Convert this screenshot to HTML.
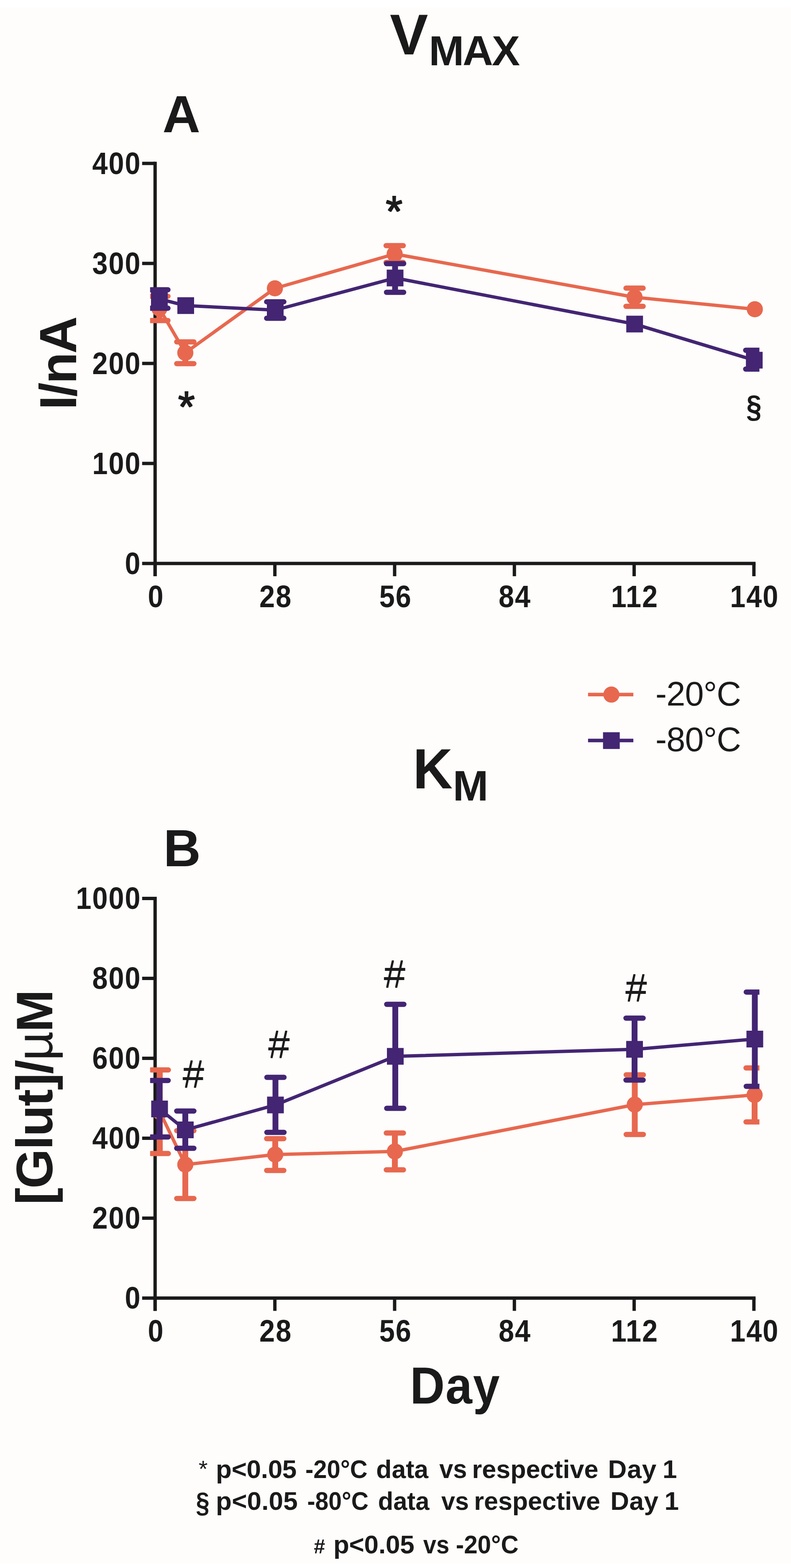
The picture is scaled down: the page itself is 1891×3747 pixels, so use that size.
<!DOCTYPE html>
<html><head><meta charset="utf-8"><title>Vmax and Km</title>
<style>html,body{margin:0;padding:0;background:#fefdfb;}svg{display:block;}</style>
</head><body>
<svg width="1891" height="3747" viewBox="0 0 1891 3747" font-family="'Liberation Sans', Arial, sans-serif" fill="#1a1a1a">
<defs><filter id="thk" x="-10%" y="-10%" width="120%" height="120%"><feMorphology operator="dilate" radius="0.3 1.2"/></filter><filter id="thk2" x="-10%" y="-10%" width="120%" height="120%"><feMorphology operator="dilate" radius="0.8 0.8"/></filter><clipPath id="cr"><rect x="358.8" y="0" width="1456.7" height="3747"/></clipPath></defs>
<rect x="0" y="0" width="1891" height="3747" fill="#ffffff"/>
<rect x="0" y="18" width="1891" height="3718" fill="#fefdfb"/>
<text x="932.0" y="130.0" font-size="137.0" font-weight="bold">V</text>
<text x="1025.2" y="156.0" font-size="101.0" font-weight="bold" letter-spacing="-3.20">MAX</text>
<text x="388.6" y="316.0" font-size="125.0" font-weight="bold">A</text>
<text transform="translate(987.2,1884.3) scale(0.965,1)" font-size="136.0" font-weight="bold">K</text>
<text x="1082.4" y="1912.6" font-size="102.0" font-weight="bold">M</text>
<text x="390.7" y="2069.5" font-size="123.5" font-weight="bold">B</text>
<line x1="370.8" y1="386.5" x2="370.8" y2="1377.0" stroke="#1a1a1a" stroke-width="8"/>
<line x1="366.8" y1="1346.5" x2="1806.3" y2="1346.5" stroke="#1a1a1a" stroke-width="8"/>
<line x1="339.8" y1="1346.5" x2="370.8" y2="1346.5" stroke="#1a1a1a" stroke-width="8"/>
<text transform="translate(298.5,1371.7) scale(0.9,1)" font-size="74.0" font-weight="bold" letter-spacing="2.22">0</text>
<line x1="339.8" y1="1107.5" x2="370.8" y2="1107.5" stroke="#1a1a1a" stroke-width="8"/>
<text transform="translate(220.4,1132.7) scale(0.9,1)" font-size="74.0" font-weight="bold" letter-spacing="2.22">100</text>
<line x1="339.8" y1="868.5" x2="370.8" y2="868.5" stroke="#1a1a1a" stroke-width="8"/>
<text transform="translate(220.4,893.7) scale(0.9,1)" font-size="74.0" font-weight="bold" letter-spacing="2.22">200</text>
<line x1="339.8" y1="629.5" x2="370.8" y2="629.5" stroke="#1a1a1a" stroke-width="8"/>
<text transform="translate(220.4,654.7) scale(0.9,1)" font-size="74.0" font-weight="bold" letter-spacing="2.22">300</text>
<line x1="339.8" y1="390.5" x2="370.8" y2="390.5" stroke="#1a1a1a" stroke-width="8"/>
<text transform="translate(220.4,415.7) scale(0.9,1)" font-size="74.0" font-weight="bold" letter-spacing="2.22">400</text>
<line x1="370.8" y1="1346.5" x2="370.8" y2="1377.0" stroke="#1a1a1a" stroke-width="8"/>
<text transform="translate(353.5,1451.0) scale(0.9,1)" font-size="74.0" font-weight="bold" letter-spacing="2.22">0</text>
<line x1="657.1" y1="1346.5" x2="657.1" y2="1377.0" stroke="#1a1a1a" stroke-width="8"/>
<text transform="translate(620.1,1451.0) scale(0.9,1)" font-size="74.0" font-weight="bold" letter-spacing="2.22">28</text>
<line x1="943.4" y1="1346.5" x2="943.4" y2="1377.0" stroke="#1a1a1a" stroke-width="8"/>
<text transform="translate(906.7,1451.0) scale(0.9,1)" font-size="74.0" font-weight="bold" letter-spacing="2.22">56</text>
<line x1="1229.7" y1="1346.5" x2="1229.7" y2="1377.0" stroke="#1a1a1a" stroke-width="8"/>
<text transform="translate(1192.0,1451.0) scale(0.9,1)" font-size="74.0" font-weight="bold" letter-spacing="2.22">84</text>
<line x1="1516.0" y1="1346.5" x2="1516.0" y2="1377.0" stroke="#1a1a1a" stroke-width="8"/>
<text transform="translate(1460.7,1451.0) scale(0.9,1)" font-size="74.0" font-weight="bold" letter-spacing="2.22">112</text>
<line x1="1802.3" y1="1346.5" x2="1802.3" y2="1377.0" stroke="#1a1a1a" stroke-width="8"/>
<text transform="translate(1745.2,1451.0) scale(0.9,1)" font-size="74.0" font-weight="bold" letter-spacing="2.22">140</text>
<line x1="370.8" y1="2143.0" x2="370.8" y2="3132.5" stroke="#1a1a1a" stroke-width="8"/>
<line x1="366.8" y1="3102.0" x2="1806.3" y2="3102.0" stroke="#1a1a1a" stroke-width="8"/>
<line x1="339.8" y1="3102.0" x2="370.8" y2="3102.0" stroke="#1a1a1a" stroke-width="8"/>
<text transform="translate(298.5,3127.2) scale(0.9,1)" font-size="74.0" font-weight="bold" letter-spacing="2.22">0</text>
<line x1="339.8" y1="2911.0" x2="370.8" y2="2911.0" stroke="#1a1a1a" stroke-width="8"/>
<text transform="translate(220.4,2936.2) scale(0.9,1)" font-size="74.0" font-weight="bold" letter-spacing="2.22">200</text>
<line x1="339.8" y1="2720.0" x2="370.8" y2="2720.0" stroke="#1a1a1a" stroke-width="8"/>
<text transform="translate(220.4,2745.2) scale(0.9,1)" font-size="74.0" font-weight="bold" letter-spacing="2.22">400</text>
<line x1="339.8" y1="2529.0" x2="370.8" y2="2529.0" stroke="#1a1a1a" stroke-width="8"/>
<text transform="translate(220.4,2554.2) scale(0.9,1)" font-size="74.0" font-weight="bold" letter-spacing="2.22">600</text>
<line x1="339.8" y1="2338.0" x2="370.8" y2="2338.0" stroke="#1a1a1a" stroke-width="8"/>
<text transform="translate(220.4,2363.2) scale(0.9,1)" font-size="74.0" font-weight="bold" letter-spacing="2.22">800</text>
<line x1="339.8" y1="2147.0" x2="370.8" y2="2147.0" stroke="#1a1a1a" stroke-width="8"/>
<text transform="translate(181.4,2172.2) scale(0.9,1)" font-size="74.0" font-weight="bold" letter-spacing="2.22">1000</text>
<line x1="370.8" y1="3102.0" x2="370.8" y2="3132.5" stroke="#1a1a1a" stroke-width="8"/>
<text transform="translate(353.5,3205.5) scale(0.9,1)" font-size="74.0" font-weight="bold" letter-spacing="2.22">0</text>
<line x1="657.1" y1="3102.0" x2="657.1" y2="3132.5" stroke="#1a1a1a" stroke-width="8"/>
<text transform="translate(620.1,3205.5) scale(0.9,1)" font-size="74.0" font-weight="bold" letter-spacing="2.22">28</text>
<line x1="943.4" y1="3102.0" x2="943.4" y2="3132.5" stroke="#1a1a1a" stroke-width="8"/>
<text transform="translate(906.7,3205.5) scale(0.9,1)" font-size="74.0" font-weight="bold" letter-spacing="2.22">56</text>
<line x1="1229.7" y1="3102.0" x2="1229.7" y2="3132.5" stroke="#1a1a1a" stroke-width="8"/>
<text transform="translate(1192.0,3205.5) scale(0.9,1)" font-size="74.0" font-weight="bold" letter-spacing="2.22">84</text>
<line x1="1516.0" y1="3102.0" x2="1516.0" y2="3132.5" stroke="#1a1a1a" stroke-width="8"/>
<text transform="translate(1460.7,3205.5) scale(0.9,1)" font-size="74.0" font-weight="bold" letter-spacing="2.22">112</text>
<line x1="1802.3" y1="3102.0" x2="1802.3" y2="3132.5" stroke="#1a1a1a" stroke-width="8"/>
<text transform="translate(1745.2,3205.5) scale(0.9,1)" font-size="74.0" font-weight="bold" letter-spacing="2.22">140</text>
<text transform="translate(182.2,979.3) rotate(-90)" x="0" y="0" font-size="123.5" font-weight="bold" letter-spacing="-3.27">I/nA</text>
<text transform="translate(125.1,2878.8) rotate(-90)" x="0" y="0" font-size="122" font-weight="bold" letter-spacing="-2.14">[Glut]/<tspan font-weight="normal">µ</tspan>M</text>
<polyline points="381.0,737.0 443.0,843.0 657.2,689.0 943.5,607.0 1517.0,710.3 1804.5,739.0" fill="none" stroke="#e7684f" stroke-width="8" stroke-linejoin="round"/>
<line x1="381.0" y1="708.0" x2="381.0" y2="766.0" stroke="#e7684f" stroke-width="14"/>
<line x1="360.5" y1="708.0" x2="401.5" y2="708.0" stroke="#e7684f" stroke-width="12.5" stroke-linecap="round" clip-path="url(#cr)"/>
<line x1="360.5" y1="766.0" x2="401.5" y2="766.0" stroke="#e7684f" stroke-width="12.5" stroke-linecap="round" clip-path="url(#cr)"/>
<circle cx="381.0" cy="737.0" r="19.3" fill="#e7684f"/>
<line x1="443.0" y1="817.0" x2="443.0" y2="869.0" stroke="#e7684f" stroke-width="14"/>
<line x1="422.5" y1="817.0" x2="463.5" y2="817.0" stroke="#e7684f" stroke-width="12.5" stroke-linecap="round" clip-path="url(#cr)"/>
<line x1="422.5" y1="869.0" x2="463.5" y2="869.0" stroke="#e7684f" stroke-width="12.5" stroke-linecap="round" clip-path="url(#cr)"/>
<circle cx="443.0" cy="843.0" r="19.3" fill="#e7684f"/>
<circle cx="657.2" cy="689.0" r="19.3" fill="#e7684f"/>
<line x1="943.5" y1="587.0" x2="943.5" y2="627.0" stroke="#e7684f" stroke-width="14"/>
<line x1="923.0" y1="587.0" x2="964.0" y2="587.0" stroke="#e7684f" stroke-width="12.5" stroke-linecap="round" clip-path="url(#cr)"/>
<line x1="923.0" y1="627.0" x2="964.0" y2="627.0" stroke="#e7684f" stroke-width="12.5" stroke-linecap="round" clip-path="url(#cr)"/>
<circle cx="943.5" cy="607.0" r="19.3" fill="#e7684f"/>
<line x1="1517.0" y1="688.6" x2="1517.0" y2="732.0" stroke="#e7684f" stroke-width="14"/>
<line x1="1496.5" y1="688.6" x2="1537.5" y2="688.6" stroke="#e7684f" stroke-width="12.5" stroke-linecap="round" clip-path="url(#cr)"/>
<line x1="1496.5" y1="732.0" x2="1537.5" y2="732.0" stroke="#e7684f" stroke-width="12.5" stroke-linecap="round" clip-path="url(#cr)"/>
<circle cx="1517.0" cy="710.3" r="19.3" fill="#e7684f"/>
<circle cx="1804.5" cy="739.0" r="19.3" fill="#e7684f"/>
<polyline points="381.0,714.5 444.0,730.3 658.0,741.0 944.5,664.3 1517.2,774.4 1803.2,860.7" fill="none" stroke="#432573" stroke-width="8" stroke-linejoin="round"/>
<line x1="381.0" y1="692.5" x2="381.0" y2="736.5" stroke="#432573" stroke-width="14"/>
<line x1="360.5" y1="692.5" x2="401.5" y2="692.5" stroke="#432573" stroke-width="12.5" stroke-linecap="round" clip-path="url(#cr)"/>
<line x1="360.5" y1="736.5" x2="401.5" y2="736.5" stroke="#432573" stroke-width="12.5" stroke-linecap="round" clip-path="url(#cr)"/>
<rect x="361.0" y="694.5" width="40" height="40" fill="#432573"/>
<rect x="424.0" y="710.3" width="40" height="40" fill="#432573"/>
<line x1="658.0" y1="721.2" x2="658.0" y2="760.5" stroke="#432573" stroke-width="14"/>
<line x1="637.5" y1="721.2" x2="678.5" y2="721.2" stroke="#432573" stroke-width="12.5" stroke-linecap="round" clip-path="url(#cr)"/>
<line x1="637.5" y1="760.5" x2="678.5" y2="760.5" stroke="#432573" stroke-width="12.5" stroke-linecap="round" clip-path="url(#cr)"/>
<rect x="638.0" y="721.0" width="40" height="40" fill="#432573"/>
<line x1="944.5" y1="630.0" x2="944.5" y2="698.5" stroke="#432573" stroke-width="14"/>
<line x1="924.0" y1="630.0" x2="965.0" y2="630.0" stroke="#432573" stroke-width="12.5" stroke-linecap="round" clip-path="url(#cr)"/>
<line x1="924.0" y1="698.5" x2="965.0" y2="698.5" stroke="#432573" stroke-width="12.5" stroke-linecap="round" clip-path="url(#cr)"/>
<rect x="924.5" y="644.3" width="40" height="40" fill="#432573"/>
<rect x="1497.2" y="754.4" width="40" height="40" fill="#432573"/>
<line x1="1803.2" y1="837.0" x2="1803.2" y2="882.0" stroke="#432573" stroke-width="14"/>
<line x1="1782.7" y1="837.0" x2="1823.7" y2="837.0" stroke="#432573" stroke-width="12.5" stroke-linecap="round" clip-path="url(#cr)"/>
<line x1="1782.7" y1="882.0" x2="1823.7" y2="882.0" stroke="#432573" stroke-width="12.5" stroke-linecap="round" clip-path="url(#cr)"/>
<rect x="1783.2" y="840.7" width="40" height="40" fill="#432573"/>
<polyline points="382.0,2656.7 443.0,2783.0 658.0,2759.0 944.0,2751.5 1517.5,2639.7 1804.0,2616.5" fill="none" stroke="#e7684f" stroke-width="8" stroke-linejoin="round"/>
<line x1="382.0" y1="2556.8" x2="382.0" y2="2756.6" stroke="#e7684f" stroke-width="14"/>
<line x1="361.5" y1="2556.8" x2="402.5" y2="2556.8" stroke="#e7684f" stroke-width="12.5" stroke-linecap="round" clip-path="url(#cr)"/>
<line x1="361.5" y1="2756.6" x2="402.5" y2="2756.6" stroke="#e7684f" stroke-width="12.5" stroke-linecap="round" clip-path="url(#cr)"/>
<circle cx="382.0" cy="2656.7" r="19.3" fill="#e7684f"/>
<line x1="443.0" y1="2702.0" x2="443.0" y2="2864.0" stroke="#e7684f" stroke-width="14"/>
<line x1="422.5" y1="2702.0" x2="463.5" y2="2702.0" stroke="#e7684f" stroke-width="12.5" stroke-linecap="round" clip-path="url(#cr)"/>
<line x1="422.5" y1="2864.0" x2="463.5" y2="2864.0" stroke="#e7684f" stroke-width="12.5" stroke-linecap="round" clip-path="url(#cr)"/>
<circle cx="443.0" cy="2783.0" r="19.3" fill="#e7684f"/>
<line x1="658.0" y1="2721.0" x2="658.0" y2="2797.0" stroke="#e7684f" stroke-width="14"/>
<line x1="637.5" y1="2721.0" x2="678.5" y2="2721.0" stroke="#e7684f" stroke-width="12.5" stroke-linecap="round" clip-path="url(#cr)"/>
<line x1="637.5" y1="2797.0" x2="678.5" y2="2797.0" stroke="#e7684f" stroke-width="12.5" stroke-linecap="round" clip-path="url(#cr)"/>
<circle cx="658.0" cy="2759.0" r="19.3" fill="#e7684f"/>
<line x1="944.0" y1="2707.5" x2="944.0" y2="2795.5" stroke="#e7684f" stroke-width="14"/>
<line x1="923.5" y1="2707.5" x2="964.5" y2="2707.5" stroke="#e7684f" stroke-width="12.5" stroke-linecap="round" clip-path="url(#cr)"/>
<line x1="923.5" y1="2795.5" x2="964.5" y2="2795.5" stroke="#e7684f" stroke-width="12.5" stroke-linecap="round" clip-path="url(#cr)"/>
<circle cx="944.0" cy="2751.5" r="19.3" fill="#e7684f"/>
<line x1="1517.5" y1="2568.5" x2="1517.5" y2="2711.0" stroke="#e7684f" stroke-width="14"/>
<line x1="1497.0" y1="2568.5" x2="1538.0" y2="2568.5" stroke="#e7684f" stroke-width="12.5" stroke-linecap="round" clip-path="url(#cr)"/>
<line x1="1497.0" y1="2711.0" x2="1538.0" y2="2711.0" stroke="#e7684f" stroke-width="12.5" stroke-linecap="round" clip-path="url(#cr)"/>
<circle cx="1517.5" cy="2639.7" r="19.3" fill="#e7684f"/>
<line x1="1804.0" y1="2552.0" x2="1804.0" y2="2681.0" stroke="#e7684f" stroke-width="14"/>
<line x1="1783.5" y1="2552.0" x2="1824.5" y2="2552.0" stroke="#e7684f" stroke-width="12.5" stroke-linecap="round" clip-path="url(#cr)"/>
<line x1="1783.5" y1="2681.0" x2="1824.5" y2="2681.0" stroke="#e7684f" stroke-width="12.5" stroke-linecap="round" clip-path="url(#cr)"/>
<circle cx="1804.0" cy="2616.5" r="19.3" fill="#e7684f"/>
<polyline points="381.5,2650.0 443.0,2700.0 658.5,2640.5 945.0,2524.3 1517.0,2507.5 1804.5,2483.0" fill="none" stroke="#432573" stroke-width="8" stroke-linejoin="round"/>
<line x1="381.5" y1="2582.0" x2="381.5" y2="2717.0" stroke="#432573" stroke-width="14"/>
<line x1="361.0" y1="2582.0" x2="402.0" y2="2582.0" stroke="#432573" stroke-width="12.5" stroke-linecap="round" clip-path="url(#cr)"/>
<line x1="361.0" y1="2717.0" x2="402.0" y2="2717.0" stroke="#432573" stroke-width="12.5" stroke-linecap="round" clip-path="url(#cr)"/>
<rect x="361.5" y="2630.0" width="40" height="40" fill="#432573"/>
<line x1="443.0" y1="2655.0" x2="443.0" y2="2744.0" stroke="#432573" stroke-width="14"/>
<line x1="422.5" y1="2655.0" x2="463.5" y2="2655.0" stroke="#432573" stroke-width="12.5" stroke-linecap="round" clip-path="url(#cr)"/>
<line x1="422.5" y1="2744.0" x2="463.5" y2="2744.0" stroke="#432573" stroke-width="12.5" stroke-linecap="round" clip-path="url(#cr)"/>
<rect x="423.0" y="2680.0" width="40" height="40" fill="#432573"/>
<line x1="658.5" y1="2574.5" x2="658.5" y2="2706.0" stroke="#432573" stroke-width="14"/>
<line x1="638.0" y1="2574.5" x2="679.0" y2="2574.5" stroke="#432573" stroke-width="12.5" stroke-linecap="round" clip-path="url(#cr)"/>
<line x1="638.0" y1="2706.0" x2="679.0" y2="2706.0" stroke="#432573" stroke-width="12.5" stroke-linecap="round" clip-path="url(#cr)"/>
<rect x="638.5" y="2620.5" width="40" height="40" fill="#432573"/>
<line x1="945.0" y1="2400.0" x2="945.0" y2="2648.5" stroke="#432573" stroke-width="14"/>
<line x1="924.5" y1="2400.0" x2="965.5" y2="2400.0" stroke="#432573" stroke-width="12.5" stroke-linecap="round" clip-path="url(#cr)"/>
<line x1="924.5" y1="2648.5" x2="965.5" y2="2648.5" stroke="#432573" stroke-width="12.5" stroke-linecap="round" clip-path="url(#cr)"/>
<rect x="925.0" y="2504.3" width="40" height="40" fill="#432573"/>
<line x1="1517.0" y1="2433.0" x2="1517.0" y2="2581.0" stroke="#432573" stroke-width="14"/>
<line x1="1496.5" y1="2433.0" x2="1537.5" y2="2433.0" stroke="#432573" stroke-width="12.5" stroke-linecap="round" clip-path="url(#cr)"/>
<line x1="1496.5" y1="2581.0" x2="1537.5" y2="2581.0" stroke="#432573" stroke-width="12.5" stroke-linecap="round" clip-path="url(#cr)"/>
<rect x="1497.0" y="2487.5" width="40" height="40" fill="#432573"/>
<line x1="1804.5" y1="2370.7" x2="1804.5" y2="2596.0" stroke="#432573" stroke-width="14"/>
<line x1="1784.0" y1="2370.7" x2="1825.0" y2="2370.7" stroke="#432573" stroke-width="12.5" stroke-linecap="round" clip-path="url(#cr)"/>
<line x1="1784.0" y1="2596.0" x2="1825.0" y2="2596.0" stroke="#432573" stroke-width="12.5" stroke-linecap="round" clip-path="url(#cr)"/>
<rect x="1784.5" y="2463.0" width="40" height="40" fill="#432573"/>
<text x="921.9" y="541.1" font-size="104" filter="url(#thk2)">*</text>
<text x="425.5" y="1007.7" font-size="104" filter="url(#thk2)">*</text>
<text transform="translate(1784.0,997.3) scale(0.87,1)" font-size="76.0" font-weight="bold">§</text>
<text x="436.5" y="2599.3" font-size="93" filter="url(#thk)">#</text>
<text x="641.0" y="2528.2" font-size="93" filter="url(#thk)">#</text>
<text x="917.6" y="2360.1" font-size="93" filter="url(#thk)">#</text>
<text x="1495.0" y="2392.5" font-size="93" filter="url(#thk)">#</text>
<line x1="1405.8" y1="1659.7" x2="1514.1" y2="1659.7" stroke="#e7684f" stroke-width="8.5"/>
<circle cx="1461.6" cy="1659.8" r="19.3" fill="#e7684f"/>
<line x1="1405.8" y1="1769.6" x2="1514.1" y2="1769.6" stroke="#432573" stroke-width="8.5"/>
<rect x="1441.6" y="1749.8" width="40" height="40" fill="#432573"/>
<text x="1567.0" y="1685.8" font-size="81.0" font-weight="normal" letter-spacing="-0.80">-20°C</text>
<text x="1567.0" y="1794.7" font-size="81.0" font-weight="normal" letter-spacing="-0.80">-80°C</text>
<text transform="translate(980.3,3354.0) scale(0.93,1)" font-size="123.5" font-weight="bold" letter-spacing="1.95">Day</text>
<text x="474.7" y="3528.5" font-size="56.0" font-weight="normal">*</text>
<text x="516.1" y="3532.3" font-size="62.0" font-weight="bold" letter-spacing="-0.30">p&lt;0.05</text>
<text transform="translate(729.9,3532.3) scale(0.9351098270369272,1)" font-size="62.0" font-weight="bold">-20°C</text>
<text transform="translate(899.3,3532.3) scale(0.9792341702446893,1)" font-size="62.0" font-weight="bold">data</text>
<text transform="translate(1050.3,3532.3) scale(0.958369864256131,1)" font-size="62.0" font-weight="bold">vs</text>
<text transform="translate(1128.6,3532.3) scale(0.9837778132651978,1)" font-size="62.0" font-weight="bold">respective</text>
<text x="1453.4" y="3532.3" font-size="62.0" font-weight="bold" letter-spacing="1.08">Day</text>
<text x="1584.0" y="3532.3" font-size="62.0" font-weight="bold">1</text>
<text transform="translate(468.3,3613.7) scale(0.85,1)" font-size="69.0" font-weight="bold">§</text>
<text x="516.1" y="3608.0" font-size="62.0" font-weight="bold" letter-spacing="0.16">p&lt;0.05</text>
<text transform="translate(734.5,3608.0) scale(0.9209219537991253,1)" font-size="62.0" font-weight="bold">-80°C</text>
<text transform="translate(903.8,3608.0) scale(0.961676589360106,1)" font-size="62.0" font-weight="bold">data</text>
<text transform="translate(1055.0,3608.0) scale(0.9568582398645579,1)" font-size="62.0" font-weight="bold">vs</text>
<text transform="translate(1133.3,3608.0) scale(0.9837778132651978,1)" font-size="62.0" font-weight="bold">respective</text>
<text x="1459.3" y="3608.0" font-size="62.0" font-weight="bold" letter-spacing="0.48">Day</text>
<text x="1588.5" y="3608.0" font-size="62.0" font-weight="bold">1</text>
<text x="750.2" y="3712.0" font-size="48.5" font-weight="bold">#</text>
<text x="796.9" y="3711.5" font-size="62.0" font-weight="bold" letter-spacing="-0.18">p&lt;0.05</text>
<text transform="translate(1011.8,3711.5) scale(0.9069746349427095,1)" font-size="62.0" font-weight="bold">vs</text>
<text transform="translate(1089.7,3711.5) scale(0.9415588603268371,1)" font-size="62.0" font-weight="bold">-20°C</text>
</svg>
</body></html>
